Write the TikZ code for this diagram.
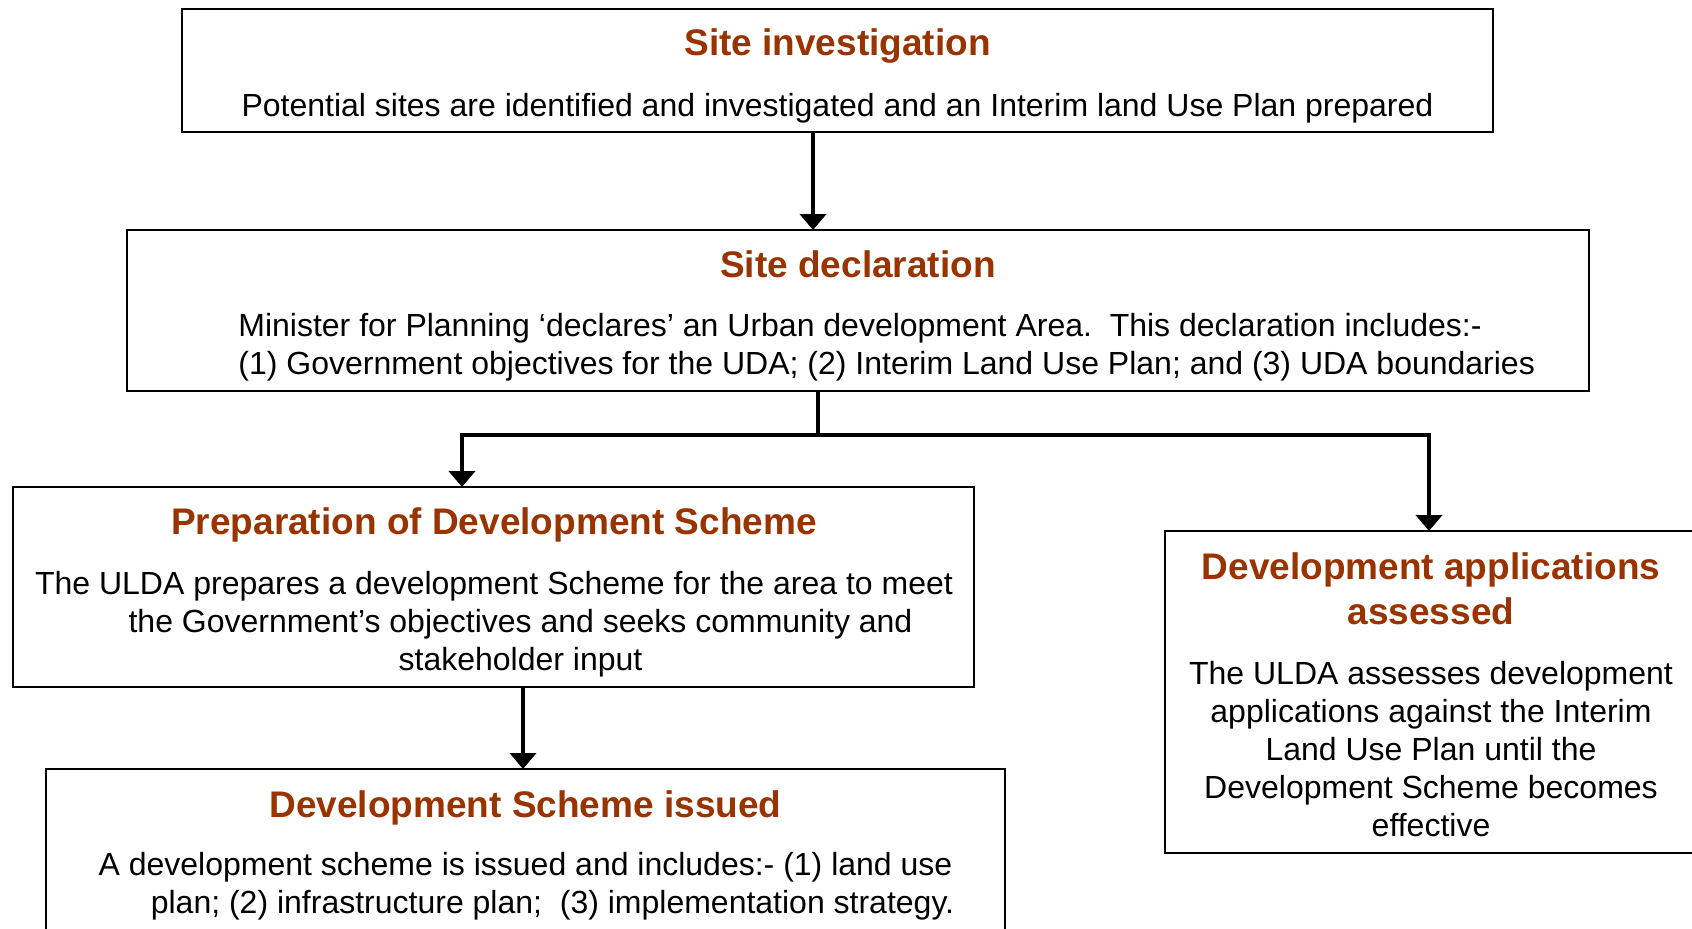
\documentclass[tikz,border=0pt]{standalone}
\usepackage{fontspec}
\setmainfont{Liberation Sans}
\usetikzlibrary{arrows.meta}
\definecolor{headbrown}{HTML}{993300}
\tikzset{
  box/.style={draw, line width=0.9pt, inner sep=0pt, outer sep=0pt},
  head/.style={font=\fontsize{18.5}{22.5}\selectfont\bfseries, text=headbrown, align=center, anchor=base, inner sep=0pt},
  body/.style={font=\fontsize{16}{19}\selectfont, align=center, anchor=base, inner sep=0pt},
  conn/.style={line width=2.2pt},
  arrow/.style={conn, -{Triangle[width=13pt,length=8pt]}},
}
\begin{document}
\begin{tikzpicture}[x=0.5pt,y=-0.5pt]
\useasboundingbox (0,0) rectangle (1692,928);
% the five stages
\node[box, minimum width=655.5pt, minimum height=61.5pt] (siteinv) at (837.5,70.5) {};
\node[box, minimum width=731pt, minimum height=80.5pt] (sitedecl) at (858,310.5) {};
\node[box, minimum width=480.5pt, minimum height=100pt] (prep) at (493.5,587) {};
\node[box, minimum width=479.5pt, minimum height=85.5pt] (issued) at (525.5,854.5) {};
\node[box, minimum width=266pt, minimum height=161pt] (assess) at (1431,692) {};
% headings (base = last line)
\node[head] (siteinv title) at (837.5,55) {Site investigation};
\node[head] (sitedecl title) at (858,277) {Site declaration};
\node[head] (prep title) at (494,534) {Preparation of Development Scheme};
\node[head] (issued title) at (525.5,817) {Development Scheme issued};
\node[head] (assess title) at (1431,624) {Development applications\\assessed};
% texts
\node[body] (siteinv text) at (837.5,116) {Potential sites are identified and investigated and an Interim land Use Plan prepared};
\node[body, align=left, anchor=base west] (sitedecl text) at (238,374) {Minister for Planning ‘declares’ an Urban development Area.\ \ This declaration includes:-\\(1) Government objectives for the UDA; (2) Interim Land Use Plan; and (3) UDA boundaries};
\node[body] (prep text) at (494,670) {The ULDA prepares a development Scheme for the area to meet\\\hspace*{26.5pt}the Government’s objectives and seeks community and\\\hspace*{26.5pt}stakeholder input};
\node[body] (issued text) at (525.5,913) {A development scheme is issued and includes:- (1) land use\\\hspace*{27pt}plan; (2) infrastructure plan;\ \ (3) implementation strategy.};
\node[body] (assess text) at (1431,836) {The ULDA assesses development\\applications against the Interim\\Land Use Plan until the\\Development Scheme becomes\\effective};
% connectors
\coordinate (forkl) at (462,435);
\coordinate (forkr) at (1429,435);
\draw[arrow] ([xshift=-12.25pt]siteinv.south) -- ([xshift=-12.25pt]siteinv.south |- sitedecl.north);
\draw[conn] ([xshift=-20pt]sitedecl.south) -- ([xshift=-20pt]sitedecl.south |- forkl);
\draw[arrow] (forkr) -- (forkl) -- (forkl |- prep.north);
\draw[arrow] (forkl) -- (forkr) -- (forkr |- assess.north);
\draw[arrow] ([xshift=14.75pt]prep.south) -- ([xshift=14.75pt]prep.south |- issued.north);
\end{tikzpicture}
\end{document}
